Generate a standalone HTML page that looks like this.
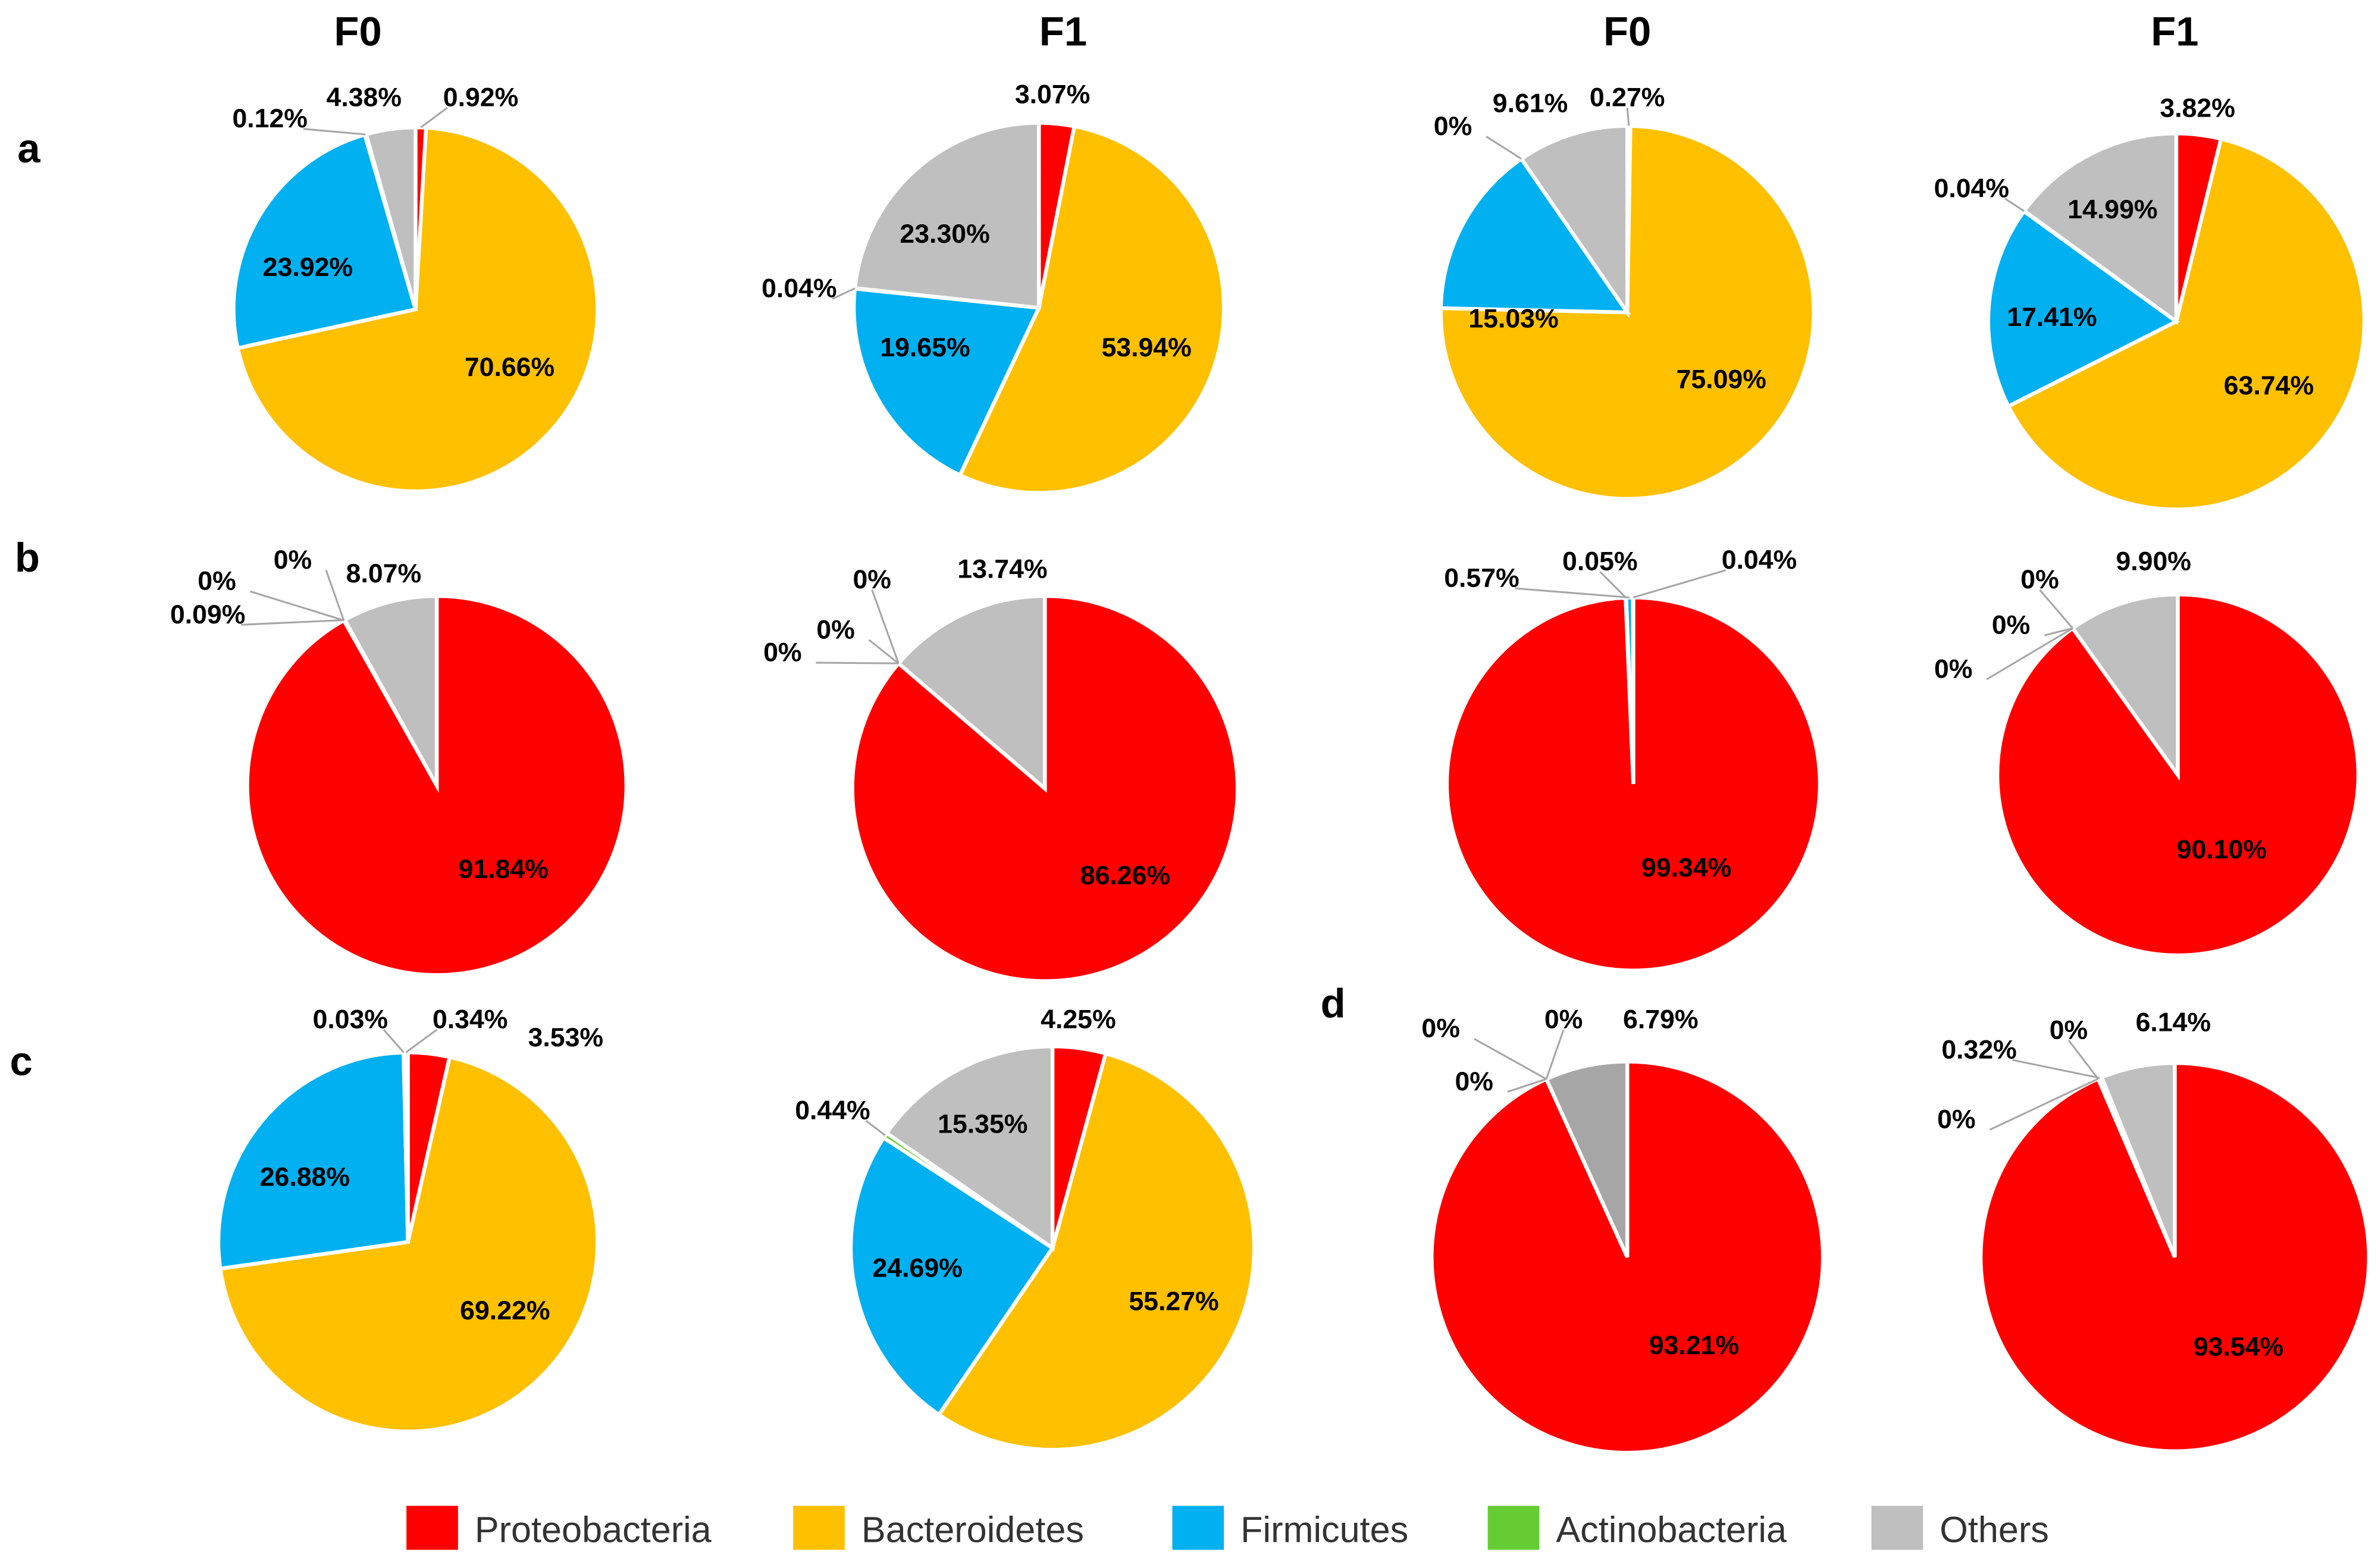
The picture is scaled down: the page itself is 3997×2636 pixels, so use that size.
<!DOCTYPE html>
<html><head><meta charset="utf-8"><style>
html,body{margin:0;padding:0;background:#fff}
svg{display:block}
text{font-family:"Liberation Sans",Arial,sans-serif}
</style></head><body>
<svg id="chart" width="3997" height="2636" viewBox="0 0 1568 1034" preserveAspectRatio="none" xmlns="http://www.w3.org/2000/svg">
<rect width="1568" height="1034" fill="#fff"/>
<g id="heads" font-weight="bold" font-size="27" fill="#000" text-anchor="middle">
<text x="236" y="30">F0</text>
<text x="701" y="30">F1</text>
<text x="1073" y="30">F0</text>
<text x="1434" y="30">F1</text>
<text x="19" y="107">a</text>
<text x="18" y="377">b</text>
<text x="14" y="709">c</text>
<text x="879" y="671">d</text>
</g>
<g id="pies"></g>
<g id="legend" font-size="24" fill="#333"></g>
</svg>
<script>
const categories = ["Proteobacteria","Bacteroidetes","Firmicutes","Actinobacteria","Others"];
const panels = ["a1","a2","a3","a4","b1","b2","b3","b4","c1","c2","d3","d4"];
const valA1 = [0.92,70.66,23.92,0.12,4.38];
const valA2 = [3.07,53.94,19.65,0.04,23.30];
const valA3 = [0.27,75.09,15.03,0,9.61];
const valA4 = [3.82,63.74,17.41,0.04,14.99];
const valB1 = [91.84,0,0,0.09,8.07];
const valB2 = [86.26,0,0,0,13.74];
const valB3 = [99.34,0.05,0.57,0,0.04];
const valB4 = [90.10,0,0,0,9.90];
const valC1 = [3.53,69.22,26.88,0.03,0.34];
const valC2 = [4.25,55.27,24.69,0.44,15.35];
const valD3 = [93.21,0,0,0,6.79];
const valD4 = [93.54,0,0,0.32,6.14];
const seriesValues = [valA1,valA2,valA3,valA4,valB1,valB2,valB3,valB4,valC1,valC2,valD3,valD4];

// layout (not data): center x, y, radius
const geom = [[274,204,120],[685,203,122],[1073,206,123],[1435,212,124],
 [288,518,125],[689,520,127],[1077,517,123],[1436,511,119],
 [269,819,125],[694,823,133],[1073,829,129],[1434,829,128]];
// label placements: [slice index, x, y] (layout)
const labelPos = [
 [[0,317,64],[1,336,242],[2,203,176],[3,178,78],[4,240,64]],
 [[0,694,62],[1,756,229],[2,610,229],[3,527,190],[4,623,154]],
 [[0,1073,64],[1,1135,250],[2,998,210],[3,958,83],[4,1009,68]],
 [[0,1449,71],[1,1496,254],[2,1353,209],[3,1300,124],[4,1393,138]],
 [[0,332,573],[1,193,369],[2,143,383],[3,137,405],[4,253,378]],
 [[0,742,577],[1,575,382],[2,551,415],[3,516,430],[4,661,375]],
 [[0,1112,572],[1,1055,370],[2,977,381],[4,1160,369]],
 [[0,1465,560],[1,1345,382],[2,1326,412],[3,1288,441],[4,1420,370]],
 [[0,373,684],[1,333,864],[2,201,776],[3,231,672],[4,310,672]],
 [[0,711,672],[1,774,858],[2,605,836],[3,549,732],[4,648,741]],
 [[0,1117,887],[1,1031,672],[2,950,678],[3,972,713],[4,1095,672]],
 [[0,1476,888],[1,1364,679],[2,1290,738],[3,1305,692],[4,1433,674]]
];
const colors = ["#ff0000","#ffc000","#00b0f0","#66cc33","#bfbfbf"];
const NS="http://www.w3.org/2000/svg";
const piesG=document.getElementById('pies');
function pt(cx,cy,r,frac){const a=frac*2*Math.PI-Math.PI/2;return [cx+r*Math.cos(a),cy+r*Math.sin(a)];}
seriesValues.forEach((vals,pi)=>{
  const [cx,cy,r]=geom[pi];
  const g=document.createElementNS(NS,'g');
  
  
  piesG.appendChild(g);
  const tot=vals.reduce((s,v)=>s+v,0);
  let acc=0;
  const mids=[];
  vals.forEach((v,i)=>{
    const f0=acc/tot, f1=(acc+v)/tot; acc+=v;
    mids[i]=(f0+f1)/2;
    if(v<=0) return;
    const [x0,y0]=pt(cx,cy,r,f0),[x1,y1]=pt(cx,cy,r,f1);
    const p=document.createElementNS(NS,'path');
    let fill=colors[i];
    if(panels[pi]==='d3'&&i===4) fill='#a6a6a6';
    p.setAttribute('d',`M${cx},${cy}L${x0},${y0}A${r},${r} 0 ${(f1-f0)>0.5?1:0} 1 ${x1},${y1}Z`);
    p.setAttribute('fill',fill);
    p.setAttribute('stroke','#fff');
    p.setAttribute('stroke-width','2.5');
    
    
    g.appendChild(p);
  });
  labelPos[pi].forEach(([si,x,y])=>{
    const v=vals[si];
    const d=Math.hypot(x-cx,y-cy);
    if(d>r && v<1){
      const [ex,ey]=pt(cx,cy,r,mids[si]);
      const lx = x + (ex>x?22:-22)*(Math.abs(ex-x)>25?1:0);
      const ly = y + 7;
      const l=document.createElementNS(NS,'polyline');
      l.setAttribute('points',`${ex},${ey} ${lx},${ly}`);
      l.setAttribute('fill','none');l.setAttribute('stroke','#a6a6a6');l.setAttribute('stroke-width','1.2');
      
      
      g.appendChild(l);
    }
    const t=document.createElementNS(NS,'text');
    t.setAttribute('x',x);t.setAttribute('y',y+6);
    t.setAttribute('text-anchor','middle');
    t.setAttribute('font-size','17.5');t.setAttribute('font-weight','bold');t.setAttribute('fill','#000');
    t.textContent=(v===0?'0':v.toFixed(2))+'%';
    
    
    g.appendChild(t);
  });
});
const legendX=[268,523,773,981,1234];
const lg=document.getElementById('legend');
categories.forEach((c,i)=>{
  const r=document.createElementNS(NS,'rect');
  r.setAttribute('x',legendX[i]);r.setAttribute('y',993);r.setAttribute('width',34);r.setAttribute('height',29);
  r.setAttribute('fill',colors[i]);
  
  
  lg.appendChild(r);
  const t=document.createElementNS(NS,'text');
  t.setAttribute('x',legendX[i]+45);t.setAttribute('y',1017);
  t.textContent=c;
  
  
  lg.appendChild(t);
});
</script>
</body></html>
